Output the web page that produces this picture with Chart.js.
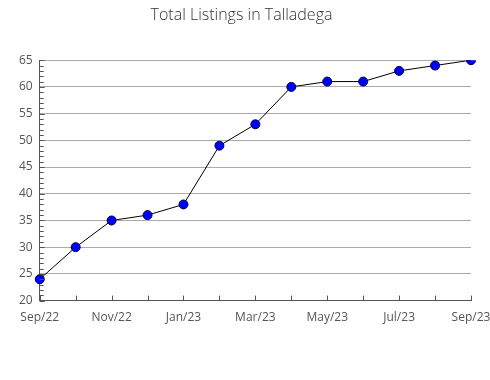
<!DOCTYPE html>
<html>
<head>
<meta charset="utf-8">
<script src="https://cdn.jsdelivr.net/npm/chart.js@4"></script>
<style>
  html, body { margin: 0; padding: 0; background: #fff; }
  #wrap { width: 490px; height: 380px; }
</style>
</head>
<body>
<div id="wrap"><canvas id="chart" width="490" height="380"></canvas></div>
<script>
const months = ['Sep/22', 'Oct/22', 'Nov/22', 'Dec/22', 'Jan/23', 'Feb/23', 'Mar/23',
                'Apr/23', 'May/23', 'Jun/23', 'Jul/23', 'Aug/23', 'Sep/23'];
const listings = [24, 30, 35, 36, 38, 49, 53, 60, 61, 61, 63, 64, 65];
const yMin = 20;
const yMax = 65;
const yStep = 5;

// ticks inside the plot: every month on x, every unit on y
const innerTicks = {
    id: 'innerTicks',
    afterDraw(chart) {
        const ctx = chart.ctx;
        const x = chart.scales.x;
        const y = chart.scales.y;
        ctx.save();
        ctx.strokeStyle = '#555';
        ctx.lineWidth = 1;
        ctx.beginPath();
        for (let i = 0; i < months.length; i++) {
            const px = Math.round(x.getPixelForValue(i)) + 0.5;
            ctx.moveTo(px, y.bottom);
            ctx.lineTo(px, y.bottom - 5);
        }
        for (let v = yMin; v <= yMax; v++) {
            const py = Math.round(y.getPixelForValue(v)) + 0.5;
            ctx.moveTo(x.left, py);
            ctx.lineTo(x.left + (v % yStep === 0 ? 5 : 4), py);
        }
        ctx.stroke();
        ctx.restore();
    }
};

new Chart(document.getElementById('chart'), {
    type: 'line',
    data: {
        labels: months,
        datasets: [{
            data: listings,
            borderColor: '#000',
            borderWidth: 1,
            pointBackgroundColor: '#0000ff',
            pointBorderColor: '#000044',
            pointBorderWidth: 1,
            pointRadius: 4.5,
            tension: 0,
            fill: false
        }]
    },
    options: {
        responsive: false,
        animation: false,
        layout: { padding: { left: 12, right: 19, top: 0, bottom: 53 } },
        plugins: {
            legend: { display: false },
            tooltip: { enabled: false },
            title: {
                display: true,
                text: 'Total Listings in Talladega',
                color: '#333',
                font: { family: 'Open Sans', size: 16, weight: 300 },
                padding: { top: 6, bottom: 35 }
            }
        },
        scales: {
            x: {
                offset: false,
                grid: { display: false },
                border: { color: '#555' },
                afterFit: (scale) => { scale.paddingRight = 19; },
                ticks: {
                    color: '#555',
                    font: { family: 'Open Sans', size: 12 },
                    maxRotation: 0,
                    autoSkip: false,
                    padding: 2,
                    callback: (v, i) => (i % 2 === 0 ? months[i] : '')
                }
            },
            y: {
                min: yMin,
                max: yMax,
                grid: { color: '#aaa', drawTicks: false },
                border: { color: '#555' },
                ticks: {
                    stepSize: yStep,
                    color: '#555',
                    font: { family: 'Open Sans', size: 12 },
                    padding: 7
                }
            }
        }
    },
    plugins: [innerTicks]
});
</script>
</body>
</html>
